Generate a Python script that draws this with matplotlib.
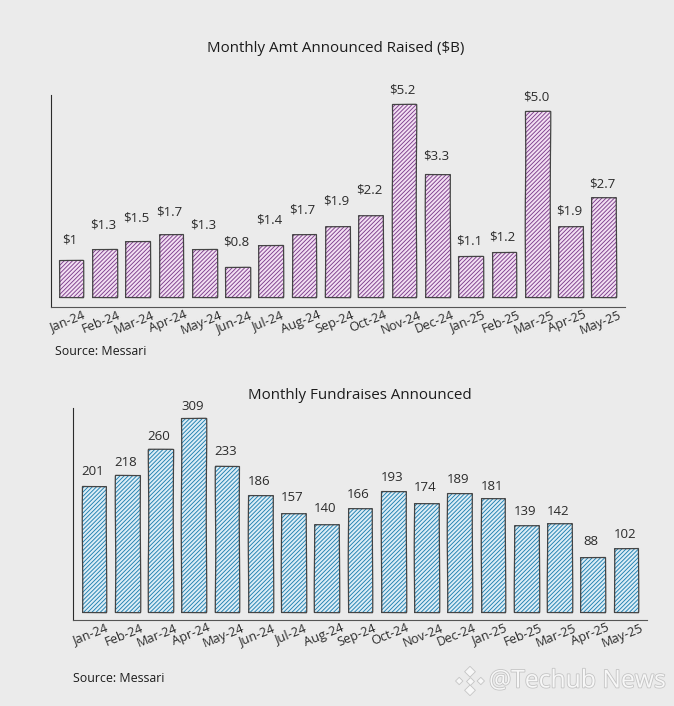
# -*- coding: utf-8 -*-
"""Two hatched monthly bar panels, fundraising amount and deal count."""
import matplotlib
matplotlib.use("Agg")
import matplotlib.pyplot as plt
import matplotlib.patheffects as pe
from matplotlib.transforms import ScaledTranslation

MONTHS = ["Jan-24", "Feb-24", "Mar-24", "Apr-24", "May-24", "Jun-24",
          "Jul-24", "Aug-24", "Sep-24", "Oct-24", "Nov-24", "Dec-24",
          "Jan-25", "Feb-25", "Mar-25", "Apr-25", "May-25"]
AMOUNT = [1.0, 1.3, 1.5, 1.7, 1.3, 0.8, 1.4, 1.7, 1.9, 2.2, 5.2, 3.3,
          1.1, 1.2, 5.0, 1.9, 2.7]
AMOUNT_LABELS = ["$1", "$1.3", "$1.5", "$1.7", "$1.3", "$0.8", "$1.4", "$1.7",
                 "$1.9", "$2.2", "$5.2", "$3.3", "$1.1", "$1.2", "$5.0",
                 "$1.9", "$2.7"]
COUNT = [201, 218, 260, 309, 233, 186, 157, 140, 166, 193, 174, 189, 181,
         139, 142, 88, 102]
COUNT_LABELS = [str(v) for v in COUNT]

# how far above each bar the hand-placed labels sit, in px
AMOUNT_LIFT = [20, 24, 23, 22, 24, 25, 25, 24, 25, 25, 14, 18, 15, 15, 14, 15, 13]
COUNT_LIFT = [14, 13, 12, 11, 14, 14, 16, 16, 13, 13, 15, 14, 12, 13, 11, 15, 13]

W, H = 674, 706
BG = "#ebebeb"
INK = "#2b2b2b"
plt.rcParams["font.family"] = ["Open Sans", "DejaVu Sans"]
plt.rcParams["hatch.linewidth"] = 0.65


def panel(fig, box, zero_px, px_per_unit, first_px, step_px, values, labels, lifts,
          face, hatch_col, title, title_x, title_y):
    left, top, right, bottom = box
    ax = fig.add_axes([left / W, 1 - bottom / H, (right - left) / W, (bottom - top) / H])
    ax.set_facecolor(BG)
    x = list(range(len(values)))
    # fill + hatch first, then a darker outline with a slight wobble on top
    ax.bar(x, values, width=0.74, facecolor=face, edgecolor=hatch_col,
           hatch="////////", linewidth=0)
    outline = ax.bar(x, values, width=0.74, facecolor="none", edgecolor="#444444",
                     linewidth=0.9)
    for b in outline:
        b.set_sketch_params(scale=0.25, length=220, randomness=4)
    ax.set_xlim((left - first_px) / step_px, (right - first_px) / step_px)
    ax.set_ylim((zero_px - bottom) / px_per_unit, (zero_px - top) / px_per_unit)
    for s in ("top", "right"):
        ax.spines[s].set_visible(False)
    ax.spines["left"].set_color(INK)
    ax.spines["bottom"].set_color("#555555")
    ax.spines["left"].set_linewidth(0.8)
    ax.spines["bottom"].set_linewidth(0.8)
    ax.set_yticks([])
    ax.set_xticks(x)
    ax.set_xticklabels(MONTHS, rotation=22, ha="center", fontsize=9.2, color=INK)
    ax.tick_params(axis="x", length=0, pad=1)
    shift = ScaledTranslation(-3 / 100, 0, fig.dpi_scale_trans)
    for lab in ax.get_xticklabels():
        lab.set_transform(lab.get_transform() + shift)
    for xi, v, lab, lift in zip(x, values, labels, lifts):
        ax.annotate(lab, (xi, v), xytext=(-1, lift * 0.72), textcoords="offset points",
                    ha="center", va="center", fontsize=9.5, color=INK)
    fig.text(title_x / W, 1 - title_y / H, title, ha="center", va="center",
             fontsize=10.9, color="#1c1c1c")
    return ax


def main():
    fig = plt.figure(figsize=(W / 100, H / 100), dpi=100, facecolor=BG)
    panel(fig, (50.5, 95, 625, 307), 297, 37.2, 71, 33.3, AMOUNT, AMOUNT_LABELS,
          AMOUNT_LIFT, "#f3dff3", "#7d3f8c", "Monthly Amt Announced Raised ($B)", 336, 48)
    panel(fig, (73, 408, 647, 620), 612, 0.628, 94, 33.25, COUNT, COUNT_LABELS,
          COUNT_LIFT, "#dcedf6", "#1f7fb0", "Monthly Fundraises Announced", 360, 395)
    fig.text(55 / W, 1 - 351 / H, "Source: Messari", fontsize=8.9, color="#1c1c1c",
             va="center")
    fig.text(73 / W, 1 - 678 / H, "Source: Messari", fontsize=8.9, color="#1c1c1c",
             va="center")
    # watermark: white text with a soft grey edge, small diamond logo
    halo = [pe.withStroke(linewidth=1.2, foreground="#c4c4c4")]
    fig.text(489 / W, 1 - 681 / H, "@Techub News", fontsize=17.8, color="#f7f7f7",
             va="center", path_effects=halo)
    logo = fig.add_axes([455 / W, 1 - 696 / H, 30 / W, 30 / H])
    logo.axis("off")
    logo.set_xlim(-1, 1)
    logo.set_ylim(-1, 1)
    logo.scatter([0, -0.72, 0.72, 0], [0.62, 0, 0, -0.62], marker="D", s=[30, 14, 14, 30],
                 c="#f7f7f7", edgecolors="#c4c4c4", linewidths=0.6)
    logo.scatter([0], [0], marker="D", s=16, c="#f7f7f7", edgecolors="#c4c4c4",
                 linewidths=0.6)
    fig.savefig("out.png", dpi=100, facecolor=BG)
    plt.close(fig)


if __name__ == "__main__":
    main()
